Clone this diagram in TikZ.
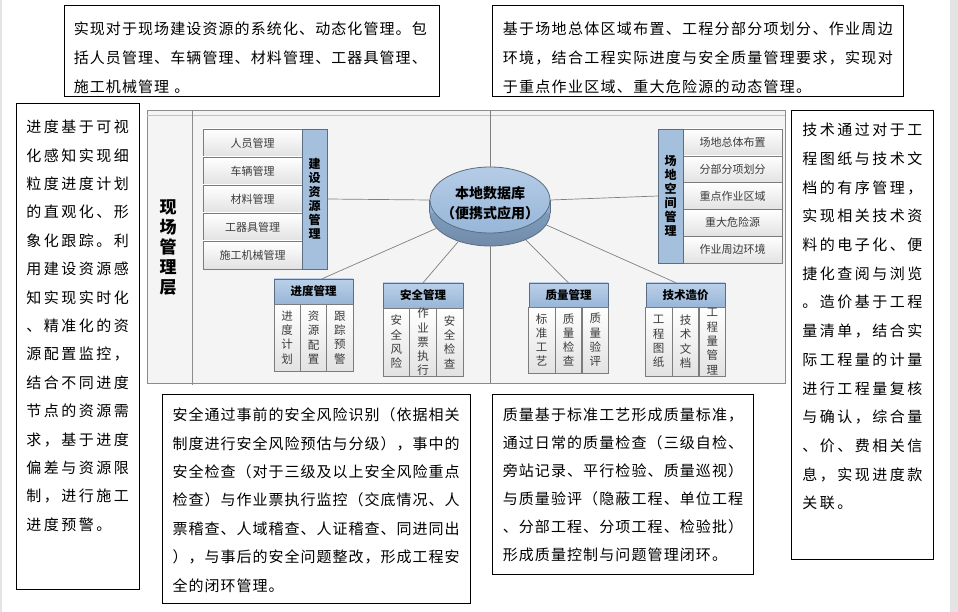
\documentclass[tikz,border=0pt]{standalone}
\usepackage{fontspec}
\setmainfont{Noto Sans CJK SC}
\usetikzlibrary{shapes.geometric}
\definecolor{lineg}{HTML}{808080}
\definecolor{barblue}{HTML}{A4C0DD}
\definecolor{hdrtop}{HTML}{BBD0E8}
\definecolor{hdrbot}{HTML}{98B6D8}
\definecolor{edgeb}{HTML}{5B6D80}
\definecolor{cellbot}{HTML}{E2E2E2}
\definecolor{cellline}{HTML}{7C7C7C}
\definecolor{celltext}{HTML}{3C3C3C}
\definecolor{framefill}{HTML}{F4F4F4}
\definecolor{frameline}{HTML}{8C8C8C}
\definecolor{stripg}{HTML}{E4E4E4}
\definecolor{cyltop}{HTML}{B5CCE6}
\definecolor{cylmid}{HTML}{97B6D9}
\definecolor{cylside}{HTML}{8DADD2}
\newlength\cw
\def\sprend{\relax}
\newcommand\spr[1]{\sprloop#1\sprend}
\def\sprloop#1{\ifx#1\sprend\else\ifx#1~\hspace{4pt}\else\makebox[\cw]{#1}\fi\expandafter\sprloop\fi}
\newcommand\tline[2]{\setlength{\cw}{#1}\expandafter\spr\expandafter{#2}}
\begin{document}
\begin{tikzpicture}[x=1pt,y=-1pt,
  tbox/.style={draw=black,fill=white,line width=0.9pt,inner sep=0pt},
  txt/.style={inner sep=0pt,anchor=west,font=\fontsize{15}{18}\selectfont,text height=11.4pt,text depth=0pt},
  cell/.style={draw=cellline,top color=white,bottom color=cellbot,inner sep=0pt,text=celltext,font=\fontsize{11}{14}\selectfont},
  vcell/.style={cell,align=center,font=\fontsize{11.5}{14.3}\selectfont},
  bar/.style={draw=edgeb,fill=barblue,inner sep=0pt,align=center,font=\bfseries\fontsize{12}{14}\selectfont},
  hdr/.style={draw=edgeb,top color=hdrtop,bottom color=hdrbot,inner sep=0pt,font=\bfseries\fontsize{11.5}{14}\selectfont},
  conn/.style={draw=lineg,line width=0.7pt}]
\useasboundingbox (0,0) rectangle (958,612);
\fill[white] (0,0) rectangle (958,612);
\fill[stripg] (950,0) rectangle (958,612);
\fill[stripg] (0,0) rectangle (2,612);
% frame
\node[draw=frameline,fill=framefill,minimum width=638pt,minimum height=273pt,inner sep=0pt,line width=0.8pt] (frm) at (466,246.5) {};
\draw[frameline!55] (147,115) -- (785,115);
\draw[frameline,line width=0.8pt] (192,110) -- (192,385);
\coordinate (ftop) at (490,110);
\coordinate (fbot) at (490,383);
\node[align=center,font=\bfseries\fontsize{17}{20}\selectfont] (layer) at (168,248) {现\\场\\管\\理\\层};
% left group
\foreach \t [count=\i from 0] in {人员管理,车辆管理,材料管理,工器具管理,施工机械管理}
  \node[cell,minimum width=99pt,minimum height=28pt] (lc\i) at (252.5,143+\i*28) {\t};
\node[bar,minimum width=25pt,minimum height=140pt] (lbar) at (314.5,199) {建\\设\\资\\源\\管\\理};
% right group
\foreach \t [count=\i from 0] in {场地总体布置,分部分项划分,重点作业区域,重大危险源,作业周边环境}
  \node[cell,minimum width=99pt,minimum height=26.8pt] (rc\i) at (732.5,142.4+\i*26.8) {\t};
\node[bar,minimum width=25pt,minimum height=134pt] (rbar) at (670.5,196) {场\\地\\空\\间\\管\\理};
% progress
\node[hdr,minimum width=79pt,minimum height=25pt] (jdh) at (313.5,291.5) {进度管理};
\node[vcell,minimum width=26.33pt,minimum height=67pt] (jd1) at (287.2,337.5) {进\\度\\计\\划};
\node[vcell,minimum width=26.33pt,minimum height=67pt] (jd2) at (313.5,337.5) {资\\源\\配\\置};
\node[vcell,minimum width=26.33pt,minimum height=67pt] (jd3) at (339.8,337.5) {跟\\踪\\预\\警};
% safety
\node[hdr,minimum width=80pt,minimum height=25pt] (aqh) at (423,295.5) {安全管理};
\node[vcell,minimum width=26.67pt,minimum height=68pt] (aq1) at (396.3,342) {安\\全\\风\\险};
\node[vcell,minimum width=26.67pt,minimum height=68pt] (aq2) at (423,342) {作\\业\\票\\执\\行};
\node[vcell,minimum width=26.67pt,minimum height=68pt] (aq3) at (449.7,342) {安\\全\\检\\查};
% quality
\node[hdr,minimum width=79pt,minimum height=24pt] (zlh) at (568.5,295) {质量管理};
\node[vcell,minimum width=26.33pt,minimum height=66pt] (zl1) at (541.7,340) {标\\准\\工\\艺};
\node[vcell,minimum width=26.33pt,minimum height=66pt] (zl2) at (568.5,340) {质\\量\\检\\查};
\node[vcell,minimum width=26.33pt,minimum height=66pt] (zl3) at (595.3,340) {质\\量\\验\\评};
% tech cost
\node[hdr,minimum width=79pt,minimum height=24pt] (jsh) at (685.5,295) {技术造价};
\node[vcell,minimum width=26.33pt,minimum height=69pt] (js1) at (658.7,341.5) {工\\程\\图\\纸};
\node[vcell,minimum width=26.33pt,minimum height=69pt] (js2) at (685.5,341.5) {技\\术\\文\\档};
\node[vcell,minimum width=26.33pt,minimum height=69pt] (js3) at (712.3,341.5) {工\\程\\量\\管\\理};
% cylinder
\node[ellipse,draw=edgeb,line width=0.8pt,top color=cylside,bottom color=cylside!80!black,minimum width=120pt,minimum height=66pt,inner sep=0pt] (dbbot) at (490,213) {};
\fill[cylside] (430,200) rectangle (550,213);
\draw[edgeb,line width=0.8pt] (dbbot.west) -- ++(0,-13) (dbbot.east) -- ++(0,-13);
\node[ellipse,draw=edgeb,line width=0.8pt,top color=cyltop,bottom color=cylmid,minimum width=120pt,minimum height=66pt,inner sep=0pt] (dbtop) at (490,200) {};
\node[align=center,inner sep=0pt,font=\bfseries\fontsize{14}{20}\selectfont] (dbtext) at (490,203) {本地数据库\\（便携式应用）};
% connectors
\draw[conn] (ftop) -- (dbtop.north);
\draw[conn] (dbbot.south) -- (fbot);
\draw[conn] (dbtop.west) -- (lbar.east);
\draw[conn] (dbtop.east) -- (rbar.west);
\draw[conn] (dbbot.196) -- ([xshift=8.5pt]jdh.north);
\draw[conn] (dbbot.222) -- (aqh.north);
\draw[conn] (dbbot.323) -- (zlh.north);
\draw[conn] (dbbot.348) -- ([xshift=-9.5pt]jsh.north);
% text boxes
\node[tbox,minimum width=375pt,minimum height=91pt] (tlbox) at (251.5,50.5) {};
\foreach \t [count=\i from 0] in {实现对于现场建设资源的系统化、动态化管理。包,括人员管理、车辆管理、材料管理、工器具管理、,施工机械管理~。}
  \node[txt] (tl\i) at (73,29+\i*29) {\tline{16.1pt}{\t}};
\node[tbox,minimum width=411pt,minimum height=91pt] (trbox) at (697.5,50.5) {};
\foreach \t [count=\i from 0] in {基于场地总体区域布置、工程分部分项划分、作业周边,环境，结合工程实际进度与安全质量管理要求，实现对,于重点作业区域、重大危险源的动态管理。}
  \node[txt] (tr\i) at (502,29+\i*29) {\tline{16.3pt}{\t}};
\node[tbox,minimum width=123pt,minimum height=486pt] (lbox) at (77.5,346) {};
\foreach \t [count=\i from 0] in {进度基于可视,化感知实现细,粒度进度计划,的直观化、形,象化跟踪。利,用建设资源感,知实现实时化,、精准化的资,源配置监控，,结合不同进度,节点的资源需,求，基于进度,偏差与资源限,制，进行施工,进度预警。}
  \node[txt] (lt\i) at (25,127+\i*28.4) {\tline{17.5pt}{\t}};
\node[tbox,minimum width=142pt,minimum height=449pt] (rbox) at (862,334.5) {};
\foreach \t [count=\i from 0] in {技术通过对于工,程图纸与技术文,档的有序管理，,实现相关技术资,料的电子化、便,捷化查阅与浏览,。造价基于工程,量清单，结合实,际工程量的计量,进行工程量复核,与确认，综合量,、价、费相关信,息，实现进度款,关联。}
  \node[txt] (rt\i) at (801,130+\i*28.7) {\tline{17.5pt}{\t}};
\node[tbox,minimum width=308pt,minimum height=209pt] (blbox) at (316,498.5) {};
\foreach \t [count=\i from 0] in {安全通过事前的安全风险识别（依据相关,制度进行安全风险预估与分级），事中的,安全检查（对于三级及以上安全风险重点,检查）与作业票执行监控（交底情况、人,票稽查、人域稽查、人证稽查、同进同出,），与事后的安全问题整改，形成工程安,全的闭环管理。}
  \node[txt] (bl\i) at (172,415+\i*28.4) {\tline{16pt}{\t}};
\node[tbox,minimum width=261pt,minimum height=180pt] (bmbox) at (622.5,484) {};
\foreach \t [count=\i from 0] in {质量基于标准工艺形成质量标准，,通过日常的质量检查（三级自检、,旁站记录、平行检验、质量巡视）,与质量验评（隐蔽工程、单位工程,、分部工程、分项工程、检验批）,形成质量控制与问题管理闭环。}
  \node[txt] (bm\i) at (502,415+\i*28) {\tline{16.1pt}{\t}};
\end{tikzpicture}
\end{document}
